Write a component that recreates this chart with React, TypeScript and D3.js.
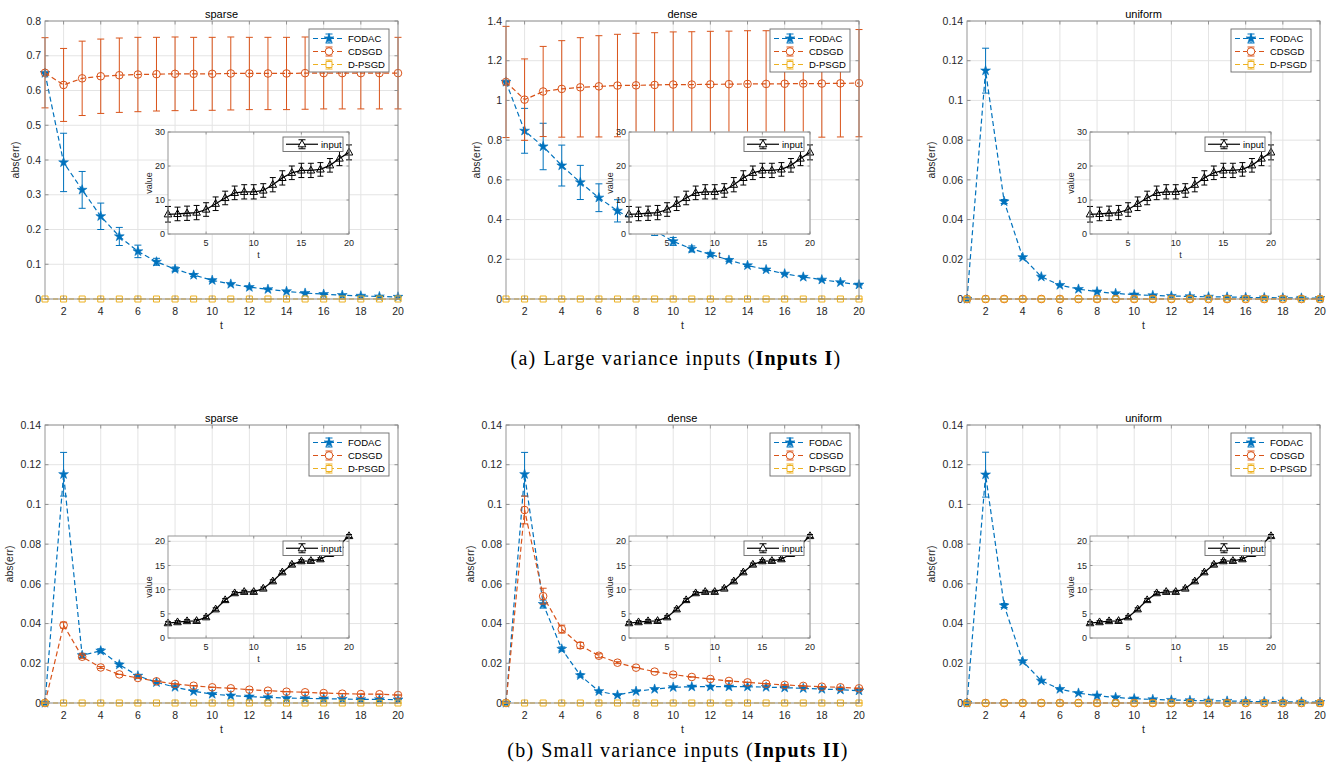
import * as d3 from "d3";

// ---- data ----
const tValues = [1, 2, 3, 4, 5, 6, 7, 8, 9, 10, 11, 12, 13, 14, 15, 16, 17, 18, 19, 20];
const seriesNames = ["FODAC", "CDSGD", "D-PSGD"];
const panelTitles = ["sparse", "dense", "uniform"];
const xTicks = [2, 4, 6, 8, 10, 12, 14, 16, 18, 20];
const insetXTicks = [5, 10, 15, 20];

const yTicksSparseI = [0, 0.1, 0.2, 0.3, 0.4, 0.5, 0.6, 0.7, 0.8];
const yTicksDenseI = [0, 0.2, 0.4, 0.6, 0.8, 1, 1.2, 1.4];
const yTicksSmall = [0, 0.02, 0.04, 0.06, 0.08, 0.1, 0.12, 0.14];
const insetYTicksI = [0, 10, 20, 30];
const insetYTicksII = [0, 5, 10, 15, 20];

const zeros = [0, 0, 0, 0, 0, 0, 0, 0, 0, 0, 0, 0, 0, 0, 0, 0, 0, 0, 0, 0];

// Inputs I
const fodacSparseI = [0.65, 0.393, 0.314, 0.238, 0.18, 0.137, 0.107, 0.086, 0.069, 0.054, 0.043, 0.034, 0.028, 0.022, 0.017, 0.014, 0.011, 0.009, 0.007, 0.006];
const fodacSparseIErr = [0, 0.084, 0.053, 0.038, 0.026, 0.018, 0.01, 0.006, 0.004, 0.003, 0.002, 0.002, 0.001, 0.001, 0.001, 0.001, 0, 0, 0, 0];
const cdsgdSparseI = [0.651, 0.616, 0.635, 0.641, 0.644, 0.646, 0.647, 0.648, 0.648, 0.648, 0.649, 0.649, 0.649, 0.649, 0.65, 0.65, 0.65, 0.65, 0.65, 0.65];
const cdsgdSparseIErr = [0.101, 0.105, 0.107, 0.107, 0.107, 0.107, 0.106, 0.106, 0.105, 0.105, 0.105, 0.104, 0.104, 0.104, 0.104, 0.103, 0.103, 0.103, 0.103, 0.103];

const fodacDenseI = [1.093, 0.847, 0.768, 0.672, 0.587, 0.51, 0.444, 0.392, 0.345, 0.29, 0.252, 0.225, 0.196, 0.169, 0.148, 0.127, 0.111, 0.097, 0.084, 0.072];
const fodacDenseIErr = [0, 0.113, 0.117, 0.103, 0.086, 0.07, 0.056, 0.04, 0.025, 0.02, 0.015, 0.01, 0.006, 0.005, 0.004, 0.003, 0.003, 0.002, 0.002, 0.002];
const cdsgdDenseI = [1.093, 1.004, 1.045, 1.058, 1.066, 1.071, 1.075, 1.076, 1.078, 1.08, 1.08, 1.081, 1.082, 1.083, 1.083, 1.084, 1.085, 1.085, 1.086, 1.087];
const cdsgdDenseIErr = [0.28, 0.205, 0.227, 0.243, 0.25, 0.255, 0.258, 0.262, 0.263, 0.265, 0.266, 0.267, 0.267, 0.268, 0.268, 0.269, 0.269, 0.27, 0.27, 0.27];

const fodacUniform = [0, 0.115, 0.0491, 0.021, 0.0112, 0.007, 0.005, 0.0037, 0.0028, 0.0022, 0.0018, 0.0015, 0.0013, 0.0011, 0.001, 0.0008, 0.0007, 0.0006, 0.0005, 0.0004];
const fodacUniformErr = [0, 0.0113, 0.001, 0.0005, 0, 0, 0, 0, 0, 0, 0, 0, 0, 0, 0, 0, 0, 0, 0, 0];

// Inputs II
const fodacSparseII = [0, 0.1152, 0.024, 0.0263, 0.0193, 0.0137, 0.0104, 0.008, 0.0059, 0.0045, 0.0037, 0.0032, 0.0028, 0.0025, 0.0023, 0.0022, 0.002, 0.0018, 0.0018, 0.0017];
const fodacSparseIIErr = [0, 0.011, 0.001, 0.001, 0.0008, 0.0005, 0.0003, 0, 0, 0, 0, 0, 0, 0, 0, 0, 0, 0, 0, 0];
const cdsgdSparseII = [0, 0.0392, 0.0233, 0.0179, 0.0144, 0.0126, 0.0109, 0.0096, 0.0087, 0.0079, 0.0074, 0.0067, 0.0062, 0.0057, 0.0054, 0.005, 0.0047, 0.0045, 0.0044, 0.004];
const cdsgdSparseIIErr = [0, 0.0015, 0.0008, 0.0005, 0, 0, 0, 0, 0, 0, 0, 0, 0, 0, 0, 0, 0, 0, 0, 0];

const fodacDenseII = [0, 0.1152, 0.0498, 0.0272, 0.0139, 0.0059, 0.004, 0.0059, 0.007, 0.0079, 0.0082, 0.0082, 0.0082, 0.0082, 0.008, 0.0077, 0.0074, 0.007, 0.0067, 0.0062];
const fodacDenseIIErr = [0, 0.011, 0.002, 0.001, 0.0008, 0.0005, 0.0003, 0, 0, 0, 0, 0, 0, 0, 0, 0, 0, 0, 0, 0];
const cdsgdDenseII = [0, 0.0972, 0.0538, 0.0372, 0.029, 0.0238, 0.0203, 0.0178, 0.0158, 0.0143, 0.0131, 0.0121, 0.0111, 0.0104, 0.0097, 0.0091, 0.0086, 0.0082, 0.0079, 0.0074];
const cdsgdDenseIIErr = [0, 0.007, 0.004, 0.002, 0.0015, 0.001, 0.0005, 0, 0, 0, 0, 0, 0, 0, 0, 0, 0, 0, 0, 0];

// inset: input signals
const inputI = [5.8, 5.9, 6.1, 6.3, 7.2, 8.9, 10.6, 12.1, 12.4, 12.4, 12.8, 14.5, 16.5, 18, 18.7, 18.7, 19, 20.2, 22.2, 24];
const inputIErr = [2.3, 2.0, 2.1, 2.1, 2.0, 2.0, 2.0, 2.0, 2.1, 2.1, 2.0, 2.1, 2.1, 2.0, 2.1, 2.1, 2.0, 2.0, 2.1, 2.2];
const inputII = [3.07, 3.28, 3.5, 3.55, 4.3, 5.94, 7.85, 9.28, 9.56, 9.56, 10.24, 11.74, 13.6, 15.2, 15.9, 15.97, 16.3, 17.4, 19.25, 21.1];
const inputIIErr = [0.3, 0.3, 0.3, 0.3, 0.3, 0.3, 0.3, 0.3, 0.3, 0.3, 0.3, 0.3, 0.3, 0.3, 0.3, 0.3, 0.3, 0.3, 0.3, 0.3];

// ---- styling ----
const COLORS = ["#0072BD", "#D95319", "#EDB120"];
const MARKERS = ["star", "circle", "square"];
const AXIS = "#262626";
const BOX = "#8a8a8a";
const GRID = "#e4e4e4";
const FONT = "'Liberation Sans', Arial, Helvetica, sans-serif";
const PW = 353;
const PH = 278;
const COLS = [45, 506, 967];
const ROWS = [21, 425];
const fmt = d3.format("~g");

type Pair = [number[], number[]];

function markerPath(kind: string) {
  if (kind === "star") return d3.symbol(d3.symbolStar, 30)() as string;
  if (kind === "circle") return "M3.8,0A3.8,3.8 0 1,1 -3.8,0A3.8,3.8 0 1,1 3.8,0Z";
  if (kind === "square") return "M-3,-3H3V3H-3Z";
  return "M0,-4.2L3.8,2.6H-3.8Z";
}

function ErrSeries({ x, y, vals, errs, color, marker, dash, cap = 3.5, width = 1.2 }: any) {
  const line = d3.line<number>().x((_, i) => x(tValues[i])).y((d) => y(d));
  const mp = markerPath(marker);
  return (
    <g>
      <path d={line(vals) as string} fill="none" stroke={color} strokeWidth={width} strokeDasharray={dash} />
      {vals.map((v: number, i: number) => {
        const cx = x(tValues[i]);
        const y0 = y(v - errs[i]);
        const y1 = y(v + errs[i]);
        return (
          <g key={i} stroke={color} strokeWidth={1}>
            <line x1={cx} x2={cx} y1={y0} y2={y1} />
            <line x1={cx - cap} x2={cx + cap} y1={y0} y2={y0} />
            <line x1={cx - cap} x2={cx + cap} y1={y1} y2={y1} />
          </g>
        );
      })}
      {vals.map((v: number, i: number) => (
        <path
          key={"m" + i}
          d={mp}
          transform={`translate(${x(tValues[i])},${y(v)})`}
          fill={marker === "star" ? color : "none"}
          stroke={color}
          strokeWidth={marker === "star" ? 0.6 : 1}
        />
      ))}
    </g>
  );
}

function LegendIcon({ cx, cy, color, marker, dash, x0, x1 }: any) {
  return (
    <g>
      <line x1={x0} x2={x1} y1={cy} y2={cy} stroke={color} strokeWidth={1.2} strokeDasharray={dash} />
      <g stroke={color} strokeWidth={1}>
        <line x1={cx} x2={cx} y1={cy - 4.5} y2={cy + 4.5} />
        <line x1={cx - 3.5} x2={cx + 3.5} y1={cy - 4.5} y2={cy - 4.5} />
        <line x1={cx - 3.5} x2={cx + 3.5} y1={cy + 4.5} y2={cy + 4.5} />
      </g>
      <path
        d={markerPath(marker)}
        transform={`translate(${cx},${cy})`}
        fill={marker === "star" ? color : "white"}
        stroke={color}
        strokeWidth={marker === "star" ? 0.6 : 1}
      />
    </g>
  );
}

function Frame({ x, y, xt, yt, tick }: any) {
  const [l, r] = x.range();
  const [b, t] = y.range();
  return (
    <g stroke={BOX} strokeWidth={0.9} fill="none">
      <rect x={l} y={t} width={r - l} height={b - t} />
      {xt.map((v: number) => (
        <g key={"x" + v}>
          <line x1={x(v)} x2={x(v)} y1={b} y2={b - tick} />
          <line x1={x(v)} x2={x(v)} y1={t} y2={t + tick} />
        </g>
      ))}
      {yt.map((v: number) => (
        <g key={"y" + v}>
          <line x1={l} x2={l + tick} y1={y(v)} y2={y(v)} />
          <line x1={r} x2={r - tick} y1={y(v)} y2={y(v)} />
        </g>
      ))}
    </g>
  );
}

function Grid({ x, y, xt, yt }: any) {
  const [l, r] = x.range();
  const [b, t] = y.range();
  return (
    <g stroke={GRID} strokeWidth={1}>
      {xt.map((v: number) => <line key={"gx" + v} x1={x(v)} x2={x(v)} y1={t} y2={b} />)}
      {yt.map((v: number) => <line key={"gy" + v} x1={l} x2={r} y1={y(v)} y2={y(v)} />)}
    </g>
  );
}

function Inset({ left, top, vals, errs, yTicks }: any) {
  const w = 181;
  const h = 102;
  const x = d3.scaleLinear().domain([1, 20]).range([left, left + w]);
  const yMax = d3.max(yTicks as number[])! >= 30 ? 30 : (d3.max(vals as number[]) as number);
  const y = d3.scaleLinear().domain([0, yMax]).range([top + h, top]);
  const lx = left + w - 66;
  const ly = top + 5;
  return (
    <g>
      <rect x={left} y={top} width={w} height={h} fill="white" />
      <Grid x={x} y={y} xt={insetXTicks} yt={yTicks} />
      <ErrSeries x={x} y={y} vals={vals} errs={errs} color="#000" marker="triangle" cap={3} width={1.3} />
      <Frame x={x} y={y} xt={insetXTicks} yt={yTicks} tick={2.5} />
      <g fontSize={9} fill={AXIS} fontFamily={FONT}>
        {insetXTicks.map((v) => (
          <text key={v} x={x(v)} y={top + h + 12} textAnchor="middle">{v}</text>
        ))}
        {yTicks.map((v: number) => (
          <text key={v} x={left - 3} y={y(v)} dy="0.35em" textAnchor="end">{v}</text>
        ))}
        <text x={left + w / 2} y={top + h + 24} textAnchor="middle">t</text>
        <text transform={`translate(${left - 16},${top + h / 2}) rotate(-90)`} textAnchor="middle">value</text>
      </g>
      <rect x={lx} y={ly} width={60} height={14.5} fill="white" stroke="#6a6a6a" strokeWidth={0.9} />
      <LegendIcon cx={lx + 19} cy={ly + 7.25} color="#000" marker="triangle" x0={lx + 3} x1={lx + 35} />
      <text x={lx + 38} y={ly + 10.5} fontSize={9.5} fontFamily={FONT} fill="#000">input</text>
    </g>
  );
}

function Panel({ left, top, title, yTicks, data, inset }: any) {
  const x = d3.scaleLinear().domain([1, 20]).range([left, left + PW]);
  const y = d3.scaleLinear().domain([0, d3.max(yTicks as number[]) as number]).range([top + PH, top]);
  const labChars = d3.max(yTicks as number[], (v) => fmt(v).length) as number;
  const lx = left + PW - 89;
  const ly = top + 8;
  return (
    <g>
      <rect x={left} y={top} width={PW} height={PH} fill="white" />
      <Grid x={x} y={y} xt={xTicks} yt={yTicks} />
      {data.map((p: Pair, k: number) => (
        <ErrSeries key={k} x={x} y={y} vals={p[0]} errs={p[1]} color={COLORS[k]} marker={MARKERS[k]} dash="5,3" />
      ))}
      <Frame x={x} y={y} xt={xTicks} yt={yTicks} tick={3.5} />
      <g fontSize={10.5} fill={AXIS} fontFamily={FONT}>
        {xTicks.map((v) => (
          <text key={v} x={x(v)} y={top + PH + 16} textAnchor="middle">{v}</text>
        ))}
        {yTicks.map((v: number) => (
          <text key={v} x={left - 4} y={y(v)} dy="0.35em" textAnchor="end">{fmt(v)}</text>
        ))}
        <text x={left + PW / 2} y={top + PH + 30} textAnchor="middle">t</text>
        <text transform={`translate(${left - 8 - 6 * labChars},${top + PH / 2}) rotate(-90)`} textAnchor="middle">abs(err)</text>
        <text x={left + PW / 2} y={top - 3.5} textAnchor="middle" fill="#000" fontSize={11}>{title}</text>
      </g>
      <Inset left={left + 123} top={top + 111} vals={inset[0]} errs={inset[1]} yTicks={inset[2]} />
      <rect x={lx} y={ly} width={80} height={43} fill="white" stroke="#6a6a6a" strokeWidth={0.9} />
      {seriesNames.map((name, k) => (
        <g key={name}>
          <LegendIcon cx={lx + 20} cy={ly + 9.5 + 13 * k} color={COLORS[k]} marker={MARKERS[k]} dash="5,3" x0={lx + 4} x1={lx + 36} />
          <text x={lx + 39} y={ly + 13 + 13 * k} fontSize={9.5} fontFamily={FONT} fill="#000">{name}</text>
        </g>
      ))}
    </g>
  );
}

export default function App() {
  const rowI = [
    { yTicks: yTicksSparseI, data: [[fodacSparseI, fodacSparseIErr], [cdsgdSparseI, cdsgdSparseIErr], [zeros, zeros]] },
    { yTicks: yTicksDenseI, data: [[fodacDenseI, fodacDenseIErr], [cdsgdDenseI, cdsgdDenseIErr], [zeros, zeros]] },
    { yTicks: yTicksSmall, data: [[fodacUniform, fodacUniformErr], [zeros, zeros], [zeros, zeros]] },
  ];
  const rowII = [
    { yTicks: yTicksSmall, data: [[fodacSparseII, fodacSparseIIErr], [cdsgdSparseII, cdsgdSparseIIErr], [zeros, zeros]] },
    { yTicks: yTicksSmall, data: [[fodacDenseII, fodacDenseIIErr], [cdsgdDenseII, cdsgdDenseIIErr], [zeros, zeros]] },
    { yTicks: yTicksSmall, data: [[fodacUniform, fodacUniformErr], [zeros, zeros], [zeros, zeros]] },
  ];
  return (
    <svg width={1327} height={775} style={{ position: "absolute", left: 0, top: 0, background: "white" }}>
      {rowI.map((p, i) => (
        <Panel key={"a" + i} left={COLS[i]} top={ROWS[0]} title={panelTitles[i]} yTicks={p.yTicks} data={p.data} inset={[inputI, inputIErr, insetYTicksI]} />
      ))}
      {rowII.map((p, i) => (
        <Panel key={"b" + i} left={COLS[i]} top={ROWS[1]} title={panelTitles[i]} yTicks={p.yTicks} data={p.data} inset={[inputII, inputIIErr, insetYTicksII]} />
      ))}
      <g fontFamily="'Liberation Serif', 'Times New Roman', serif" fontSize={20} fill="#000" letterSpacing={1.2}>
        <text x={676} y={365} textAnchor="middle">
          (a)<tspan dx={7}>Large variance inputs (</tspan><tspan fontWeight="bold">Inputs I</tspan>)
        </text>
        <text x={678} y={757} textAnchor="middle">
          (b)<tspan dx={7}>Small variance inputs (</tspan><tspan fontWeight="bold">Inputs II</tspan>)
        </text>
      </g>
    </svg>
  );
}
